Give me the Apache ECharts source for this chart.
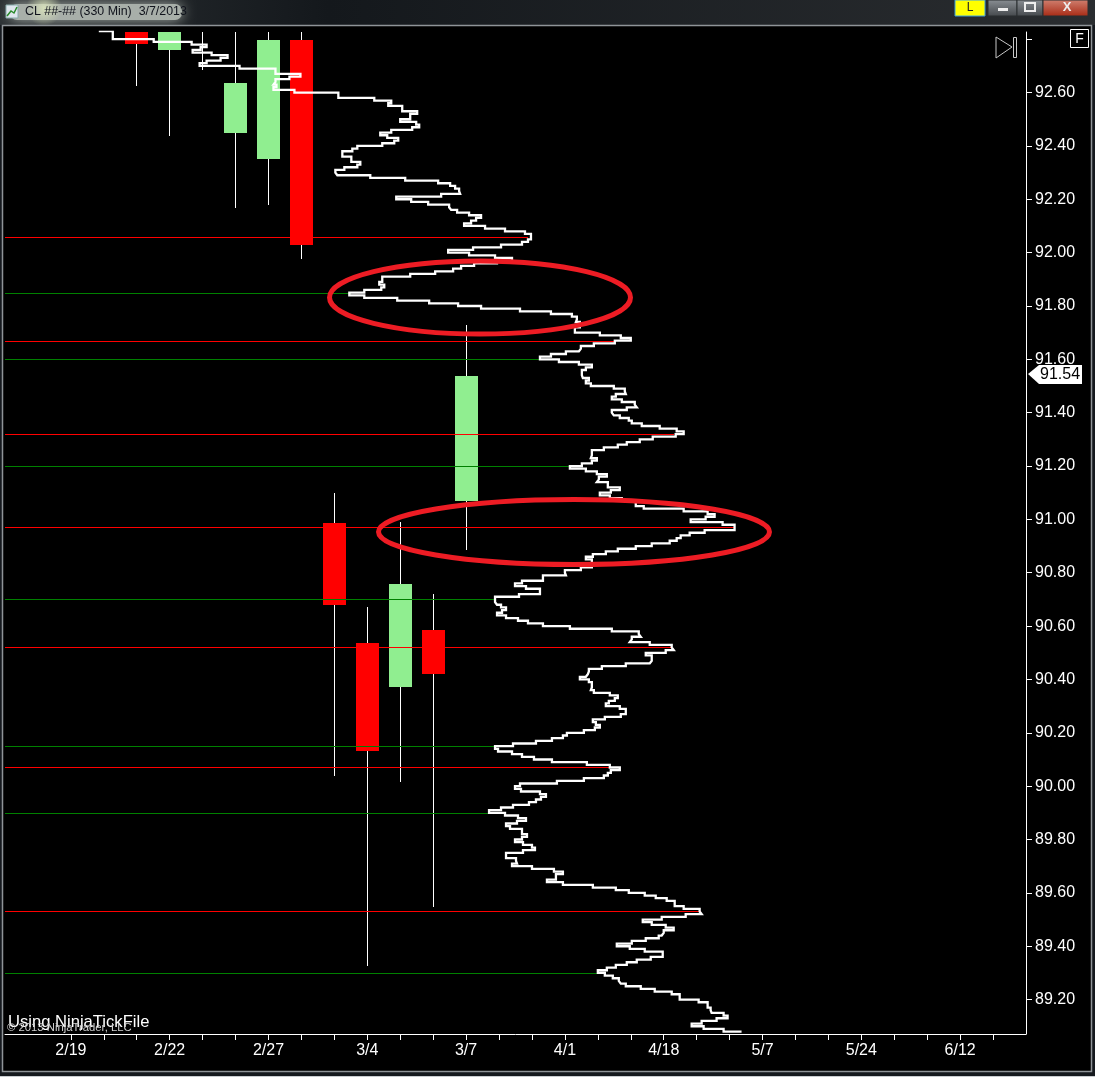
<!DOCTYPE html>
<html><head><meta charset="utf-8">
<style>html,body{margin:0;padding:0;background:#15191e}#c{width:1095px;height:1077px}</style>
<script src="https://cdn.jsdelivr.net/npm/echarts@6/dist/echarts.min.js"></script>
</head><body><div id="c"></div>
<script>
const categories = ['','','2/19','','','2/22','','','2/27','','','3/4','','','3/7','','','4/1','','','4/18','','','5/7','','','5/24','','','6/12','',''];
const priceLabels = [92.6,92.4,92.2,92.0,91.8,91.6,91.4,91.2,91.0,90.8,90.6,90.4,90.2,90.0,89.8,89.6,89.4,89.2];
const priceTicks = [92.8].concat(priceLabels);
// [category index, open, close, low, high]
const candles = [
 [4,92.83,92.782,92.625,92.83],
 [5,92.759,92.83,92.438,92.83],
 [6,92.9,92.9,92.688,92.9],
 [7,92.449,92.636,92.168,92.83],
 [8,92.351,92.797,92.176,92.83],
 [9,92.797,92.028,91.977,92.83],
 [10,90.986,90.679,90.039,91.099],
 [11,90.537,90.132,89.326,90.672],
 [12,90.372,90.758,90.017,90.991],
 [13,90.585,90.421,89.547,90.720],
 [14,91.069,91.537,90.885,91.729]
];
// pivot levels: [volume where the line stops, price]
const redLevels = [[525,92.06],[612,91.67],[671,91.32],[731,90.97],[669,90.52],[616,90.07],[698,89.53]];
const greenLevels = [[348,91.85],[536,91.60],[567,91.20],[491,90.70],[491,90.15],[485,89.90],[594,89.30]];
const lastPrice = 91.54;
const profileVolume = [95,109,150,188,203,197,189,208,224,217,203,196,236,272,297,286,272,270,273,270,274,291,335,371,388,385,399,414,407,397,413,416,409,388,377,384,395,391,379,354,349,339,339,348,357,354,341,332,334,367,402,435,447,452,456,457,438,416,393,408,425,446,448,454,466,478,473,468,461,482,502,522,528,525,519,498,470,445,466,492,509,494,471,458,450,432,407,379,376,381,378,361,346,361,394,426,455,478,517,548,569,574,573,577,572,597,618,628,612,591,578,576,563,548,537,556,576,589,583,579,580,586,583,588,611,622,623,613,609,619,632,634,624,609,611,617,626,629,639,657,674,681,673,650,637,624,615,601,589,588,594,589,579,567,583,594,604,596,594,605,617,608,597,607,619,633,641,656,681,705,712,703,688,720,732,702,687,678,674,667,649,633,615,603,590,583,589,578,562,563,540,519,512,523,537,516,492,494,498,503,499,494,503,515,525,540,567,609,636,638,629,627,647,669,671,663,643,649,647,623,599,586,585,583,577,586,589,588,591,607,615,612,606,603,617,623,618,602,590,593,597,592,581,564,560,549,533,510,492,495,509,519,531,549,584,607,617,608,605,601,581,554,517,512,518,537,543,538,533,526,510,498,486,502,515,523,514,503,507,519,524,519,512,520,529,532,520,503,513,514,509,529,551,560,553,544,560,590,613,626,642,653,664,672,681,697,699,683,659,640,649,663,671,661,659,656,643,629,614,627,642,660,648,634,624,613,604,595,602,610,616,618,623,638,652,669,677,696,705,708,709,721,725,714,699,689,701,721,739];
const profilePrice = [92.83,92.83,92.80,92.79,92.78,92.77,92.76,92.75,92.74,92.73,92.72,92.71,92.70,92.69,92.67,92.66,92.65,92.64,92.63,92.62,92.61,92.61,92.60,92.58,92.57,92.56,92.55,92.53,92.52,92.50,92.49,92.48,92.47,92.46,92.45,92.44,92.43,92.42,92.41,92.40,92.39,92.38,92.37,92.36,92.34,92.33,92.32,92.31,92.30,92.29,92.28,92.27,92.26,92.25,92.24,92.23,92.22,92.21,92.21,92.20,92.19,92.18,92.17,92.16,92.15,92.14,92.13,92.12,92.11,92.10,92.09,92.08,92.07,92.05,92.04,92.03,92.02,92.01,92.00,91.99,91.98,91.97,91.96,91.95,91.94,91.93,91.92,91.91,91.89,91.88,91.87,91.86,91.85,91.84,91.83,91.82,91.81,91.80,91.79,91.78,91.77,91.76,91.75,91.74,91.72,91.70,91.69,91.68,91.67,91.66,91.65,91.64,91.63,91.62,91.61,91.60,91.59,91.58,91.57,91.56,91.54,91.53,91.52,91.51,91.50,91.49,91.48,91.47,91.46,91.45,91.44,91.43,91.42,91.41,91.40,91.39,91.38,91.37,91.36,91.35,91.34,91.33,91.32,91.31,91.30,91.29,91.28,91.27,91.26,91.24,91.23,91.22,91.21,91.20,91.19,91.18,91.17,91.16,91.15,91.14,91.12,91.11,91.10,91.09,91.08,91.07,91.05,91.04,91.04,91.03,91.02,91.01,91.00,90.99,90.98,90.96,90.95,90.94,90.93,90.92,90.91,90.90,90.89,90.88,90.87,90.86,90.85,90.82,90.81,90.80,90.79,90.77,90.76,90.75,90.74,90.72,90.71,90.69,90.68,90.67,90.66,90.65,90.64,90.63,90.62,90.61,90.60,90.59,90.58,90.57,90.56,90.55,90.54,90.53,90.52,90.51,90.50,90.49,90.47,90.46,90.45,90.44,90.43,90.42,90.41,90.40,90.39,90.37,90.36,90.35,90.34,90.33,90.32,90.31,90.30,90.29,90.27,90.26,90.25,90.24,90.23,90.22,90.21,90.20,90.19,90.18,90.17,90.16,90.15,90.14,90.13,90.12,90.11,90.10,90.09,90.08,90.07,90.06,90.05,90.04,90.03,90.02,90.01,90.00,89.99,89.98,89.97,89.96,89.95,89.94,89.93,89.92,89.91,89.90,89.89,89.88,89.87,89.86,89.85,89.84,89.82,89.81,89.80,89.79,89.78,89.77,89.76,89.75,89.73,89.72,89.71,89.70,89.69,89.68,89.67,89.65,89.64,89.63,89.62,89.61,89.60,89.59,89.58,89.57,89.55,89.54,89.53,89.52,89.51,89.50,89.49,89.48,89.47,89.46,89.45,89.44,89.43,89.42,89.41,89.40,89.39,89.38,89.36,89.35,89.34,89.33,89.32,89.31,89.30,89.29,89.28,89.27,89.26,89.25,89.24,89.23,89.22,89.20,89.19,89.17,89.16,89.15,89.14,89.13,89.12,89.11,89.10,89.09,89.08];
const FONT = '"Liberation Sans", Arial, sans-serif';
const VOLUME_MIN = 1, VOLUME_MAX = 1024;
const chart = echarts.init(document.getElementById('c'), null, {renderer:'canvas'});
const n = Math.min(profileVolume.length, profilePrice.length);
const profile = [];
for (let i=0;i<n;i++) profile.push([profileVolume[i], profilePrice[i]]);

function levelItem(color){
  return function(params, api){
    const a = api.coord([VOLUME_MIN, api.value(1)]), b = api.coord([api.value(0), api.value(1)]);
    return {type:'rect', shape:{x:Math.round(a[0]), y:Math.round(a[1]-0.1), width:Math.round(b[0]-a[0]), height:1}, style:{fill:color}};
  };
}
function candleItem(params, api){
  const i = api.value(0), o = api.coord([i, api.value(1)]), c = api.coord([i, api.value(2)]);
  const lo = api.coord([i, api.value(3)]), hi = api.coord([i, api.value(4)]);
  const cx = Math.floor(o[0]);
  const up = api.value(2) > api.value(1);
  const top = Math.round(Math.min(o[1], c[1])), bot = Math.round(Math.max(o[1], c[1]));
  return {type:'group', children:[
    {type:'rect', shape:{x:cx, y:Math.round(hi[1]), width:1, height:Math.round(lo[1]-hi[1])}, style:{fill:'#ffffff'}},
    {type:'rect', shape:{x:cx-11, y:top, width:23, height:bot-top}, style:{fill: up ? '#90ee90' : '#ff0000'}}
  ]};
}
chart.setOption({
  animation:false,
  backgroundColor:'#15191e',
  grid:{left:5,right:69,top:32,bottom:43,containLabel:false},
  xAxis:[
    {type:'category',data:categories,boundaryGap:false,position:'bottom',
     axisLine:{show:true,lineStyle:{color:'#fff',width:1}},
     axisTick:{show:true,length:6,interval:(i)=>i>=2&&i<=30,lineStyle:{color:'#fff',width:1}},
     axisLabel:{interval:0,color:'#fff',fontFamily:FONT,fontSize:16,margin:9},
     splitLine:{show:false}},
    {type:'value',min:VOLUME_MIN,max:VOLUME_MAX,show:false,splitLine:{show:false}}
  ],
  yAxis:[{type:'value',position:'right',min:89.071,max:92.827,scale:true,
    axisLine:{show:true,onZero:false,lineStyle:{color:'#fff',width:1}},
    axisTick:{show:true,length:6,customValues:priceTicks,lineStyle:{color:'#fff',width:1}},
    axisLabel:{color:'#fff',fontFamily:FONT,fontSize:16,margin:9,padding:[4,0,0,0],customValues:priceLabels,formatter:(v)=>v.toFixed(2)},
    splitLine:{show:false}}],
  series:[
    {name:'candles',type:'custom',xAxisIndex:0,yAxisIndex:0,data:candles,clip:true,z:2,
     encode:{x:0,y:[1,2,3,4]},renderItem:candleItem},
    {name:'redLevels',type:'custom',xAxisIndex:1,yAxisIndex:0,data:redLevels,clip:true,z:3,
     encode:{x:0,y:1},renderItem:levelItem('#ff0000')},
    {name:'greenLevels',type:'custom',xAxisIndex:1,yAxisIndex:0,data:greenLevels,clip:true,z:3,
     encode:{x:0,y:1},renderItem:levelItem('#008000')},
    {name:'profile',type:'line',xAxisIndex:1,yAxisIndex:0,data:profile,step:'start',showSymbol:false,symbol:'none',
     clip:true,z:4,lineStyle:{color:'#fff',width:2.3,cap:'butt',join:'miter'},silent:true},
    {name:'last',type:'custom',xAxisIndex:0,yAxisIndex:0,data:[[31,lastPrice]],clip:false,z:5,
     encode:{x:0,y:1},renderItem:function(p,api){
       const c = api.coord([api.value(0),api.value(1)]);
       const x=c[0]+2, y=Math.round(c[1])-1;
       return {type:'group',children:[
         {type:'polygon',shape:{points:[[x,y],[x+11,y-9],[x+54,y-9],[x+54,y+10],[x+11,y+10]]},style:{fill:'#fff'}},
         {type:'text',style:{x:x+12,y:y+1,text:api.value(1).toFixed(2),fill:'#000',font:'16px '+FONT,align:'left',verticalAlign:'middle'}}
       ]};
     }}
  ],
  graphic:{elements:[
    // window body
    {type:'rect',z:-10,shape:{x:0,y:0,width:1095,height:25},style:{fill:new echarts.graphic.LinearGradient(0,0,1,0,[{offset:0,color:'#2b3033'},{offset:0.3,color:'#14181c'},{offset:1,color:'#2a2d30'}])}},
    {type:'rect',z:-9,shape:{x:10,y:4,width:172,height:16,r:7},style:{fill:'#a8afa9',shadowBlur:14,shadowColor:'#a8afa9'}},
    {type:'circle',z:-9,shape:{cx:44,cy:8,r:18},style:{fill:new echarts.graphic.RadialGradient(0.5,0.5,0.5,[{offset:0,color:'rgba(225,235,190,0.8)'},{offset:1,color:'rgba(225,235,190,0)'}])}},
    {type:'rect',z:-8,shape:{x:2.5,y:25.5,width:1089,height:1046},style:{fill:'#000',stroke:'#8f9498',lineWidth:1.5}},
    {type:'rect',z:-8,shape:{x:0,y:1076,width:1095,height:1},style:{fill:'#c8ccd0'}},
    {type:'rect',z:-7,shape:{x:6,y:5,width:12,height:13},style:{fill:'#dfe6ee',stroke:'#8aa',lineWidth:1}},
    {type:'polyline',z:-6,shape:{points:[[7,16],[11,11],[14,13],[17,7]]},style:{stroke:'#2a8a2a',lineWidth:1.5,fill:'none'}},
    {type:'text',z:-6,style:{x:25,y:12,text:'CL ##-## (330 Min)  3/7/2013',fill:'#10131c',font:'12.4px '+FONT,verticalAlign:'middle'}},
    // window buttons
    {type:'rect',z:-7,shape:{x:955,y:0,width:30,height:16},style:{fill:'#ffff00',stroke:'#3aa0e0',lineWidth:1}},
    {type:'text',z:-6,style:{x:970,y:8,text:'L',fill:'#222',font:'12px '+FONT,align:'center',verticalAlign:'middle'}},
    {type:'rect',z:-7,shape:{x:988,y:0,width:29,height:16},style:{fill:new echarts.graphic.LinearGradient(0,0,0,1,[{offset:0,color:'#8a8f94'},{offset:1,color:'#44484c'}]),stroke:'#2b2e31',lineWidth:1}},
    {type:'rect',z:-7,shape:{x:1017,y:0,width:26,height:16},style:{fill:new echarts.graphic.LinearGradient(0,0,0,1,[{offset:0,color:'#8a8f94'},{offset:1,color:'#44484c'}]),stroke:'#2b2e31',lineWidth:1}},
    {type:'rect',z:-7,shape:{x:1043,y:0,width:45,height:16},style:{fill:new echarts.graphic.LinearGradient(0,0,0,1,[{offset:0,color:'#d08070'},{offset:1,color:'#a82a14'}]),stroke:'#2b2e31',lineWidth:1}},
    {type:'rect',z:-6,shape:{x:998,y:8,width:10,height:3},style:{fill:'#eee'}},
    {type:'rect',z:-6,shape:{x:1025,y:3,width:10,height:8},style:{fill:'none',stroke:'#eee',lineWidth:2}},
    {type:'text',z:-6,style:{x:1067,y:7,text:'X',fill:'#eee',font:'bold 13px '+FONT,align:'center',verticalAlign:'middle'}},
    // chart furniture
    {type:'polygon',z:50,shape:{points:[[996,37],[1012,47],[996,58]]},style:{fill:'none',stroke:'#c8c8c8',lineWidth:1}},
    {type:'rect',z:50,shape:{x:1013.5,y:37.5,width:3,height:20},style:{fill:'none',stroke:'#c8c8c8',lineWidth:1}},
    {type:'rect',z:50,shape:{x:1070.5,y:29.5,width:18,height:18},style:{fill:'#000',stroke:'#fff',lineWidth:1}},
    {type:'text',z:51,style:{x:1079.5,y:39,text:'F',fill:'#fff',font:'14px '+FONT,align:'center',verticalAlign:'middle'}},
    {type:'text',z:50,style:{x:8,y:1022,text:'Using NinjaTickFile',fill:'#fff',font:'16.6px '+FONT,verticalAlign:'middle'}},
    {type:'text',z:50,style:{x:7,y:1028,text:'© 2013 NinjaTrader, LLC',fill:'#d0d0d0',font:'11.3px '+FONT,verticalAlign:'middle'}},
    // hand-drawn annotations
    {type:'ellipse',z:60,shape:{cx:480,cy:297.5,rx:150.5,ry:36.5},style:{fill:'none',stroke:'#ed1c24',lineWidth:5}},
    {type:'ellipse',z:60,shape:{cx:574,cy:532,rx:195.5,ry:32.5},style:{fill:'none',stroke:'#ed1c24',lineWidth:5}}
  ]}
});
</script></body></html>
